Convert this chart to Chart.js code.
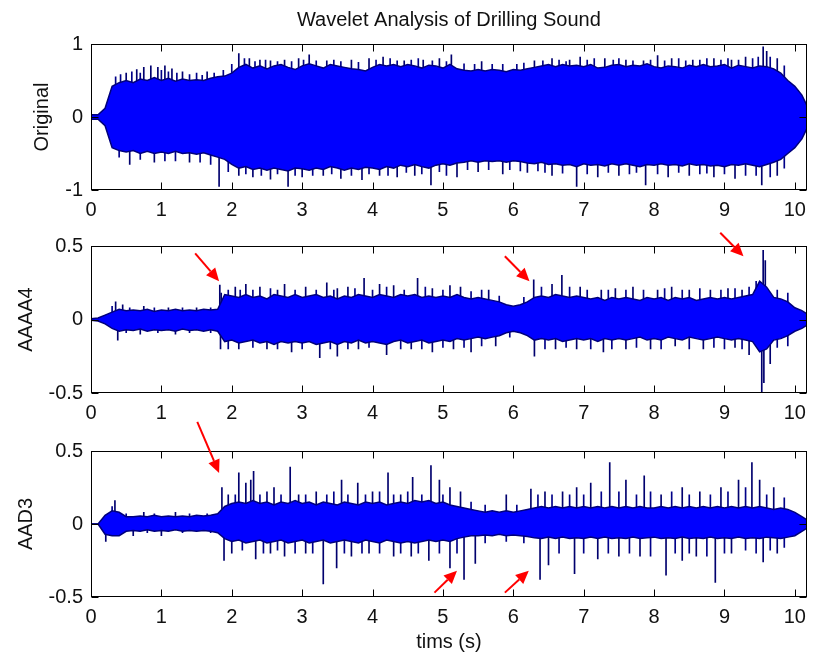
<!DOCTYPE html>
<html>
<head>
<meta charset="utf-8">
<title>Wavelet Analysis of Drilling Sound</title>
<script src="https://cdn.jsdelivr.net/npm/chart.js@4.4.0/dist/chart.umd.min.js"></script>
<style>
  html, body { margin: 0; padding: 0; background: #fff; }
  #fig { position: relative; width: 814px; height: 655px; overflow: hidden; }
  #fig canvas { position: absolute; left: 0; }
</style>
</head>
<body>
<div id="fig">
  <canvas id="c1" width="814" height="245" style="top:0"></canvas>
  <canvas id="c2" width="814" height="220" style="top:220px"></canvas>
  <canvas id="c3" width="814" height="243" style="top:412px"></canvas>
</div>
<script>
// envelope samples every 0.1 s, from 0 to 10.2 s
const STEP = 0.1;
const X_MAX = 10.17;
const X_TICKS = [0, 1, 2, 3, 4, 5, 6, 7, 8, 9, 10];

// Original signal: upper / lower envelope
const ORIG_UP = [
  0.03, 0.03, 0.12, 0.42, 0.47, 0.5, 0.47, 0.52, 0.5, 0.54,
  0.5, 0.53, 0.49, 0.52, 0.5, 0.51, 0.5, 0.53, 0.55, 0.56,
  0.6, 0.68, 0.72, 0.67, 0.7, 0.66, 0.7, 0.72, 0.68, 0.65,
  0.7, 0.73, 0.7, 0.67, 0.72, 0.7, 0.68, 0.66, 0.65, 0.63,
  0.68, 0.72, 0.7, 0.72, 0.69, 0.72, 0.7, 0.67, 0.71, 0.7,
  0.67, 0.72, 0.66, 0.64, 0.63, 0.65, 0.63, 0.65, 0.64, 0.62,
  0.65, 0.64, 0.66, 0.68, 0.7, 0.72, 0.69, 0.72, 0.7, 0.71,
  0.69, 0.72, 0.67, 0.68, 0.71, 0.72, 0.69, 0.71, 0.7, 0.73,
  0.69, 0.67, 0.7, 0.69, 0.67, 0.71, 0.69, 0.72, 0.69, 0.7,
  0.72, 0.67, 0.71, 0.69, 0.67, 0.7, 0.69, 0.66, 0.6, 0.5,
  0.42, 0.3, 0.1
];
const ORIG_LO = [
  -0.03, -0.03, -0.12, -0.42, -0.46, -0.48, -0.46, -0.5, -0.47, -0.5,
  -0.48, -0.5, -0.47, -0.5, -0.49, -0.51, -0.49, -0.52, -0.55, -0.58,
  -0.65, -0.7, -0.68, -0.72, -0.7, -0.73, -0.7, -0.72, -0.74, -0.7,
  -0.71, -0.73, -0.7, -0.72, -0.68, -0.7, -0.73, -0.7, -0.72, -0.69,
  -0.7, -0.72, -0.68, -0.7, -0.66, -0.68, -0.65, -0.68, -0.7, -0.66,
  -0.64, -0.66, -0.63, -0.62, -0.6, -0.62, -0.6, -0.61, -0.6, -0.62,
  -0.6, -0.61, -0.63, -0.64, -0.62, -0.65, -0.64, -0.66, -0.65, -0.68,
  -0.64, -0.66, -0.65, -0.67, -0.64, -0.66, -0.64, -0.66, -0.68, -0.65,
  -0.66, -0.64, -0.66, -0.65, -0.67, -0.64, -0.66, -0.65, -0.67, -0.66,
  -0.68, -0.65, -0.66, -0.64, -0.66, -0.68, -0.65, -0.62, -0.58, -0.5,
  -0.42, -0.3, -0.1
];
// tall isolated peaks (time, value)
const ORIG_PEAK_T = [0.5, 0.65, 0.75, 0.85, 0.95, 1.05, 1.15, 1.3, 1.65, 2.1, 2.25, 2.4, 2.55, 2.75, 2.95, 3.1,
  3.35, 3.7, 3.95, 4.15, 4.45, 4.72, 4.95, 5.12, 5.55, 6.3, 6.55, 6.8, 6.95, 7.3, 7.6, 7.85, 8.05, 8.25,
  8.55, 8.85, 9.1, 9.3, 9.55, 9.6, 9.75,
  0.55, 0.9, 1.4, 1.82, 2.1, 2.3, 2.55, 2.8, 3.0, 3.3, 3.55, 3.85, 4.1, 4.35, 4.6, 4.83, 5.2, 5.5, 5.85,
  6.2, 6.55, 6.9, 7.2, 7.5, 7.88, 8.2, 8.5, 8.85, 9.15, 9.53, 9.75];
const ORIG_PEAK_V = [0.6, 0.65, 0.68, 0.7, 0.68, 0.7, 0.66, 0.62, 0.62, 0.87, 0.8, 0.78, 0.77, 0.78, 0.8, 0.85,
  0.77, 0.78, 0.8, 0.82, 0.77, 0.78, 0.8, 0.85, 0.76, 0.77, 0.8, 0.78, 0.82, 0.8, 0.78, 0.77, 0.84, 0.8,
  0.78, 0.8, 0.78, 0.82, 0.96, 0.9, 0.8,
  -0.65, -0.62, -0.62, -0.95, -0.8, -0.82, -0.85, -0.95, -0.82, -0.8, -0.84, -0.86, -0.8, -0.82, -0.8, -0.93, -0.82, -0.75, -0.78,
  -0.76, -0.8, -0.95, -0.82, -0.8, -0.93, -0.82, -0.8, -0.82, -0.84, -0.93, -0.8];
// short hairs along the edges
const ORIG_HAIR_T = [0.35, 0.42, 0.58, 0.7, 1.0, 1.1, 1.22, 1.4, 1.5, 1.58, 1.75, 1.88, 2.0, 2.18, 2.33, 2.48, 2.65,
  2.85, 3.02, 3.2, 3.45, 3.55, 3.8, 4.05, 4.25, 4.35, 4.55, 4.65, 4.85, 5.05, 5.3, 5.45, 5.7, 5.85, 6.05,
  6.15, 6.42, 6.65, 6.75, 7.05, 7.15, 7.42, 7.5, 7.7, 7.95, 8.15, 8.35, 8.45, 8.65, 8.75, 8.95, 9.05, 9.2,
  9.4, 9.48, 9.65, 9.85,
  0.4, 0.7, 1.05, 1.2, 1.55, 1.7, 1.95, 2.2, 2.42, 2.65, 2.9, 3.15, 3.42, 3.7, 3.95, 4.22, 4.48, 4.7, 4.95,
  5.05, 5.35, 5.65, 5.95, 6.1, 6.35, 6.45, 6.7, 7.05, 7.35, 7.65, 7.75, 8.05, 8.35, 8.65, 8.75, 9.0, 9.3,
  9.45, 9.65, 9.85];
const ORIG_HAIR_V = [0.55, 0.58, 0.62, 0.6, 0.64, 0.62, 0.6, 0.58, 0.6, 0.57, 0.6, 0.64, 0.72, 0.8, 0.76, 0.78, 0.76,
  0.76, 0.78, 0.77, 0.78, 0.76, 0.75, 0.78, 0.8, 0.77, 0.78, 0.8, 0.77, 0.76, 0.73, 0.72, 0.72, 0.72, 0.72,
  0.74, 0.77, 0.78, 0.76, 0.78, 0.8, 0.78, 0.8, 0.77, 0.78, 0.77, 0.8, 0.77, 0.78, 0.8, 0.78, 0.8, 0.78,
  0.8, 0.82, 0.82, 0.7,
  -0.55, -0.58, -0.6, -0.6, -0.62, -0.65, -0.75, -0.78, -0.8, -0.78, -0.8, -0.8, -0.78, -0.8, -0.78, -0.8, -0.76, -0.78, -0.75,
  -0.8, -0.72, -0.72, -0.72, -0.74, -0.74, -0.76, -0.77, -0.78, -0.76, -0.78, -0.76, -0.78, -0.76, -0.78, -0.77, -0.78, -0.8,
  -0.8, -0.82, -0.7];

// AAAA4 approximation
const A4_UP = [
  0.005, 0.01, 0.03, 0.05, 0.07, 0.06, 0.065, 0.06, 0.07, 0.055,
  0.065, 0.06, 0.07, 0.06, 0.065, 0.06, 0.07, 0.065, 0.07, 0.17,
  0.16, 0.15, 0.17, 0.15, 0.16, 0.14, 0.17, 0.16, 0.15, 0.17,
  0.15, 0.16, 0.17, 0.15, 0.16, 0.14, 0.16, 0.15, 0.17, 0.16,
  0.15, 0.17, 0.16, 0.15, 0.17, 0.16, 0.17, 0.15, 0.16, 0.15,
  0.16, 0.15, 0.17, 0.15, 0.14, 0.15, 0.14, 0.13, 0.12, 0.1,
  0.09, 0.1, 0.12, 0.15, 0.16, 0.15, 0.17, 0.16, 0.15, 0.16,
  0.15, 0.14, 0.15, 0.13, 0.15, 0.14, 0.15, 0.14, 0.13, 0.15,
  0.14, 0.15, 0.13, 0.15, 0.14, 0.15, 0.13, 0.14, 0.15, 0.14,
  0.15, 0.14, 0.15, 0.16, 0.17, 0.26, 0.22, 0.15, 0.14, 0.12,
  0.08, 0.06, 0.03
];
const A4_LO = [
  -0.005, -0.01, -0.03, -0.06, -0.08, -0.07, -0.075, -0.065, -0.08, -0.07,
  -0.075, -0.07, -0.08, -0.065, -0.075, -0.07, -0.08, -0.07, -0.08, -0.15,
  -0.14, -0.16, -0.15, -0.14, -0.16, -0.15, -0.17, -0.15, -0.16, -0.15,
  -0.16, -0.15, -0.17, -0.16, -0.15, -0.17, -0.15, -0.16, -0.14, -0.16,
  -0.15, -0.16, -0.17, -0.15, -0.14, -0.16, -0.15, -0.14, -0.16, -0.15,
  -0.14, -0.15, -0.13, -0.14, -0.13, -0.12, -0.13, -0.12, -0.11, -0.09,
  -0.08, -0.09, -0.11, -0.14, -0.13, -0.14, -0.13, -0.15, -0.14, -0.13,
  -0.14, -0.13, -0.15, -0.13, -0.14, -0.13, -0.14, -0.13, -0.12, -0.14,
  -0.13, -0.14, -0.12, -0.13, -0.14, -0.12, -0.13, -0.14, -0.13, -0.12,
  -0.13, -0.14, -0.13, -0.14, -0.15, -0.22, -0.2, -0.14, -0.13, -0.11,
  -0.08, -0.06, -0.03
];
const A4_PEAK_T = [0.35, 0.45, 0.75, 1.1, 1.5, 1.83, 1.85, 2.05, 2.2, 2.4, 2.65, 2.75, 3.05, 3.35, 3.5, 3.65, 3.88,
  4.1, 4.3, 4.64, 4.85, 5.1, 5.25, 5.65, 6.29, 6.55, 6.69, 6.95, 7.25, 7.45, 7.7, 8.05, 8.25, 8.5, 8.8,
  9.05, 9.25, 9.55, 9.58,
  0.38, 0.7, 1.2, 1.84, 2.1, 2.5, 2.85, 3.25, 3.5, 3.8, 4.2, 4.55, 4.85, 5.15, 5.4, 5.75, 6.3, 6.6, 6.9,
  7.28, 7.6, 7.95, 8.3, 8.7, 9.15, 9.35, 9.53, 9.56, 9.65];
const A4_PEAK_V = [0.12, 0.1, 0.09, 0.08, 0.08, 0.235, 0.18, 0.22, 0.24, 0.22, 0.2, 0.24, 0.22, 0.25, 0.21, 0.22, 0.28,
  0.24, 0.23, 0.28, 0.21, 0.23, 0.22, 0.2, 0.27, 0.24, 0.3, 0.22, 0.2, 0.21, 0.22, 0.2, 0.22, 0.2, 0.2,
  0.21, 0.2, 0.47, 0.4,
  -0.14, -0.1, -0.1, -0.2, -0.2, -0.2, -0.22, -0.26, -0.25, -0.2, -0.24, -0.2, -0.22, -0.2, -0.22, -0.18, -0.25, -0.2, -0.2,
  -0.22, -0.2, -0.2, -0.18, -0.2, -0.19, -0.24, -0.5, -0.43, -0.3];
const A4_HAIR_T = [0.3, 0.55, 0.9, 1.3, 1.7, 1.95, 2.12, 2.3, 2.55, 2.9, 3.2, 3.45, 3.75, 4.0, 4.2, 4.45, 4.75, 5.0,
  5.4, 5.55, 5.8, 6.15, 6.4, 6.8, 7.05, 7.35, 7.6, 7.85, 8.15, 8.4, 8.65, 8.95, 9.15, 9.35, 9.45, 9.75, 9.9,
  0.5, 0.95, 1.4, 1.7, 1.95, 2.3, 2.65, 3.0, 3.4, 3.65, 3.95, 4.4, 4.7, 5.0, 5.3, 5.55, 5.95, 6.45, 6.75,
  7.1, 7.4, 7.75, 8.1, 8.5, 8.85, 9.0, 9.25, 9.75, 9.9];
const A4_HAIR_V = [0.09, 0.08, 0.08, 0.08, 0.08, 0.2, 0.2, 0.2, 0.21, 0.2, 0.2, 0.2, 0.21, 0.2, 0.22, 0.2, 0.22, 0.2,
  0.19, 0.2, 0.16, 0.15, 0.22, 0.22, 0.2, 0.2, 0.2, 0.2, 0.21, 0.2, 0.21, 0.2, 0.21, 0.22, 0.26, 0.2, 0.18,
  -0.09, -0.09, -0.09, -0.09, -0.2, -0.19, -0.2, -0.2, -0.2, -0.2, -0.19, -0.2, -0.2, -0.19, -0.19, -0.18, -0.12, -0.2, -0.19,
  -0.2, -0.2, -0.19, -0.2, -0.2, -0.19, -0.2, -0.2, -0.19, -0.18];

// AAD3 detail
const D3_UP = [
  0.0, 0.0, 0.06, 0.09, 0.08, 0.05, 0.05, 0.055, 0.05, 0.06,
  0.05, 0.055, 0.05, 0.055, 0.05, 0.06, 0.055, 0.06, 0.07, 0.12,
  0.14, 0.15, 0.14, 0.16, 0.14, 0.15, 0.13, 0.15, 0.14, 0.16,
  0.14, 0.15, 0.13, 0.15, 0.14, 0.13, 0.15, 0.14, 0.13, 0.15,
  0.14, 0.15, 0.13, 0.14, 0.15, 0.14, 0.16, 0.15, 0.16, 0.14,
  0.15, 0.13, 0.12, 0.11, 0.1, 0.09, 0.08, 0.09, 0.08, 0.09,
  0.08, 0.09, 0.1, 0.11, 0.12, 0.11, 0.12, 0.11, 0.12, 0.11,
  0.12, 0.11, 0.12, 0.11, 0.12, 0.11, 0.12, 0.11, 0.12, 0.11,
  0.11, 0.12, 0.11, 0.12, 0.11, 0.12, 0.11, 0.12, 0.11, 0.12,
  0.11, 0.12, 0.11, 0.12, 0.11, 0.12, 0.11, 0.1, 0.11, 0.1,
  0.08, 0.05, 0.02
];
const D3_LO = [
  0.0, 0.0, -0.07, -0.08, -0.08, -0.05, -0.045, -0.05, -0.04, -0.05,
  -0.045, -0.05, -0.04, -0.05, -0.045, -0.05, -0.045, -0.05, -0.06, -0.1,
  -0.12, -0.11, -0.13, -0.12, -0.11, -0.13, -0.12, -0.11, -0.13, -0.12,
  -0.11, -0.13, -0.12, -0.11, -0.13, -0.12, -0.11, -0.12, -0.13, -0.11,
  -0.12, -0.13, -0.11, -0.12, -0.13, -0.12, -0.13, -0.12, -0.11, -0.12,
  -0.11, -0.12, -0.1, -0.09, -0.08, -0.08, -0.075, -0.08, -0.07, -0.08,
  -0.075, -0.08, -0.085, -0.095, -0.1, -0.09, -0.1, -0.09, -0.1, -0.095,
  -0.1, -0.09, -0.1, -0.09, -0.1, -0.095, -0.1, -0.09, -0.1, -0.095,
  -0.09, -0.1, -0.095, -0.1, -0.09, -0.1, -0.095, -0.1, -0.09, -0.1,
  -0.095, -0.1, -0.09, -0.1, -0.095, -0.1, -0.09, -0.095, -0.1, -0.09,
  -0.08, -0.05, -0.02
];
const D3_PEAK_T = [0.34, 0.75, 1.2, 1.86, 1.95, 2.1, 2.2, 2.27, 2.31, 2.5, 2.6, 2.83, 2.95, 3.2, 3.56, 3.79, 4.0,
  4.22, 4.4, 4.57, 4.83, 4.95, 5.1, 5.25, 5.9, 6.25, 6.45, 6.7, 6.9, 7.1, 7.37, 7.6, 7.86, 8.1, 8.4, 8.65,
  8.95, 9.2, 9.39, 9.5, 9.7,
  0.21, 0.6, 1.0, 1.89, 2.0, 2.34, 2.55, 2.75, 3.05, 3.3, 3.49, 3.7, 3.95, 4.3, 4.55, 4.8, 5.1, 5.3, 5.46,
  6.38, 6.5, 6.87, 7.2, 7.5, 7.8, 8.17, 8.4, 8.6, 8.87, 9.1, 9.55, 9.75];
const D3_PEAK_V = [0.16, 0.08, 0.08, 0.25, 0.2, 0.35, 0.28, 0.3, 0.36, 0.22, 0.25, 0.39, 0.2, 0.22, 0.3, 0.28, 0.22,
  0.35, 0.2, 0.32, 0.4, 0.3, 0.25, 0.22, 0.2, 0.24, 0.22, 0.22, 0.25, 0.28, 0.42, 0.3, 0.33, 0.2, 0.25, 0.22,
  0.25, 0.3, 0.42, 0.3, 0.25,
  -0.12, -0.08, -0.08, -0.25, -0.2, -0.24, -0.2, -0.22, -0.2, -0.41, -0.3, -0.22, -0.2, -0.22, -0.22, -0.25, -0.3, -0.38, -0.27,
  -0.38, -0.28, -0.34, -0.24, -0.22, -0.22, -0.35, -0.25, -0.22, -0.4, -0.2, -0.26, -0.2];
const D3_HAIR_T = [0.3, 0.5, 0.9, 1.4, 1.65, 2.05, 2.4, 2.7, 3.05, 3.35, 3.45, 3.65, 3.9, 4.1, 4.3, 4.5, 4.7, 5.0,
  5.4, 5.6, 6.05, 6.35, 6.55, 6.8, 7.0, 7.25, 7.5, 7.75, 7.95, 8.25, 8.5, 8.8, 9.05, 9.3, 9.6, 9.85,
  0.4, 0.8, 1.3, 1.7, 2.15, 2.45, 2.65, 2.9, 3.15, 3.6, 3.85, 4.1, 4.4, 4.65, 4.95, 5.2, 5.6, 5.9, 6.15,
  6.65, 7.0, 7.35, 7.65, 7.95, 8.3, 8.5, 8.75, 9.0, 9.3, 9.45, 9.65, 9.85];
const D3_HAIR_V = [0.12, 0.07, 0.07, 0.07, 0.07, 0.2, 0.2, 0.2, 0.2, 0.2, 0.22, 0.2, 0.2, 0.22, 0.2, 0.22, 0.2, 0.2,
  0.15, 0.13, 0.13, 0.2, 0.2, 0.2, 0.2, 0.22, 0.22, 0.2, 0.22, 0.22, 0.2, 0.2, 0.22, 0.25, 0.2, 0.18,
  -0.07, -0.06, -0.06, -0.06, -0.18, -0.2, -0.18, -0.2, -0.2, -0.2, -0.2, -0.2, -0.2, -0.2, -0.2, -0.2, -0.13, -0.12, -0.13,
  -0.2, -0.2, -0.2, -0.2, -0.22, -0.2, -0.2, -0.22, -0.2, -0.18, -0.2, -0.18, -0.16];

const FONT = { family: "'Liberation Sans', Arial, Helvetica, sans-serif", size: 20 };
const TEXT = '#111';
const EDGE = '#00007c';

function series(vals) {
  return vals.map((v, i) => ({ x: +(i * STEP).toFixed(2), y: v }));
}
function peaks(ts, vs) {
  return ts.map((t, i) => ({ x: t, y: vs[i] }));
}

// box, inward ticks on all four sides, title and red arrows
const axesBox = {
  id: 'axesBox',
  afterDatasetsDraw(chart, args, opts) {
    const { ctx, chartArea: a, scales: { x, y } } = chart;
    const L = Math.round(a.left) + 0.5, R = Math.round(a.right) - 0.5;
    const T = Math.round(a.top) + 0.5, B = Math.round(a.bottom) - 0.5;
    ctx.save();
    ctx.strokeStyle = '#000';
    ctx.lineWidth = 1;
    ctx.beginPath();
    X_TICKS.forEach(v => {
      const px = Math.round(x.getPixelForValue(v)) + 0.5;
      ctx.moveTo(px, T); ctx.lineTo(px, T + 7);
      ctx.moveTo(px, B); ctx.lineTo(px, B - 7);
    });
    opts.yTicks.forEach(v => {
      const py = Math.round(y.getPixelForValue(v)) + 0.5;
      ctx.moveTo(L, py); ctx.lineTo(L + 7, py);
      ctx.moveTo(R, py); ctx.lineTo(R - 7, py);
    });
    ctx.stroke();
    ctx.strokeRect(L, T, R - L, B - T);

    if (opts.title) {
      ctx.fillStyle = TEXT;
      ctx.font = FONT.size + 'px ' + FONT.family;
      ctx.textAlign = 'center';
      ctx.textBaseline = 'middle';
      ctx.fillText(opts.title, (a.left + a.right) / 2, 20);
    }

    ctx.strokeStyle = '#ff0000';
    ctx.fillStyle = '#ff0000';
    ctx.lineWidth = 2;
    (opts.arrows || []).forEach(([x0, y0, x1, y1]) => {
      const ax = x.getPixelForValue(x0), ay = y.getPixelForValue(y0);
      const bx = x.getPixelForValue(x1), by = y.getPixelForValue(y1);
      const ang = Math.atan2(by - ay, bx - ax);
      const head = 13, half = 6;
      const hx = bx - head * Math.cos(ang), hy = by - head * Math.sin(ang);
      ctx.beginPath();
      ctx.moveTo(ax, ay); ctx.lineTo(hx, hy);
      ctx.stroke();
      ctx.beginPath();
      ctx.moveTo(bx, by);
      ctx.lineTo(hx + half * Math.sin(ang), hy - half * Math.cos(ang));
      ctx.lineTo(hx - half * Math.sin(ang), hy + half * Math.cos(ang));
      ctx.closePath();
      ctx.fill();
    });
    ctx.restore();
  }
};

function panel(id, p) {
  const yMap = {};
  p.yTicks.forEach((v, i) => { yMap[v] = p.yLabels[i]; });
  return new Chart(document.getElementById(id), {
    data: {
      datasets: [
        { type: 'line', data: series(p.up), borderColor: EDGE, borderWidth: 1.5,
          pointRadius: 0, tension: 0, fill: false, order: 1 },
        { type: 'line', data: series(p.lo), borderColor: EDGE, borderWidth: 1.5,
          backgroundColor: '#0000ff', pointRadius: 0, tension: 0, fill: '-1', order: 1 },
        { type: 'bar', data: peaks(p.peakT, p.peakV), backgroundColor: '#00006e',
          barThickness: 1, grouped: false, order: 2 },
        { type: 'bar', data: peaks(p.hairT, p.hairV), backgroundColor: '#000088',
          barThickness: 1, grouped: false, order: 2 }
      ]
    },
    options: {
      responsive: false,
      animation: false,
      devicePixelRatio: 1,
      layout: { padding: { top: p.padTop, right: 2, left: 0, bottom: 0 } },
      plugins: {
        legend: { display: false },
        tooltip: { enabled: false },
        axesBox: { yTicks: p.yTicks, title: p.title, arrows: p.arrows }
      },
      scales: {
        x: {
          type: 'linear', min: 0, max: X_MAX, offset: false,
          grid: { display: false, drawTicks: false }, border: { display: false },
          ticks: { color: TEXT, font: FONT, padding: 8, maxRotation: 0, autoSkip: false,
                   callback: v => String(v) },
          afterBuildTicks: s => { s.ticks = X_TICKS.map(v => ({ value: v })); },
          afterFit: s => { s.height = p.xHeight; },
          title: p.xTitle
            ? { display: true, text: p.xTitle, color: TEXT, font: FONT, padding: { top: 0, bottom: 1 } }
            : { display: false }
        },
        y: {
          type: 'linear', min: p.yTicks[0], max: p.yTicks[p.yTicks.length - 1],
          grid: { display: false, drawTicks: false }, border: { display: false },
          ticks: { color: TEXT, font: FONT, padding: 8, callback: v => yMap[v] },
          afterBuildTicks: s => { s.ticks = p.yTicks.map(v => ({ value: v })); },
          afterFit: s => { s.width = 91; },
          title: { display: true, text: p.yTitle, color: TEXT, font: FONT,
                   padding: { top: p.yTitlePad, bottom: 0 } }
        }
      }
    },
    plugins: [axesBox]
  });
}

panel('c1', {
  up: ORIG_UP, lo: ORIG_LO, peakT: ORIG_PEAK_T, peakV: ORIG_PEAK_V, hairT: ORIG_HAIR_T, hairV: ORIG_HAIR_V,
  yTicks: [-1, 0, 1], yLabels: ['-1', '0', '1'], yTitle: 'Original', yTitlePad: 30,
  padTop: 44, xHeight: 55, title: 'Wavelet Analysis of Drilling Sound'
});

panel('c2', {
  up: A4_UP, lo: A4_LO, peakT: A4_PEAK_T, peakV: A4_PEAK_V, hairT: A4_HAIR_T, hairV: A4_HAIR_V,
  yTicks: [-0.5, 0, 0.5], yLabels: ['-0.5', '0', '0.5'], yTitle: 'AAAA4', yTitlePad: 14,
  padTop: 26, xHeight: 47,
  arrows: [[1.48, 0.45, 1.82, 0.26], [5.88, 0.43, 6.23, 0.26], [8.94, 0.59, 9.27, 0.43]]
});

panel('c3', {
  up: D3_UP, lo: D3_LO, peakT: D3_PEAK_T, peakV: D3_PEAK_V, hairT: D3_HAIR_T, hairV: D3_HAIR_V,
  yTicks: [-0.5, 0, 0.5], yLabels: ['-0.5', '0', '0.5'], yTitle: 'AAD3', yTitlePad: 14,
  padTop: 39, xHeight: 58, xTitle: 'tims (s)',
  arrows: [[1.51, 0.70, 1.82, 0.35], [4.88, -0.47, 5.2, -0.32], [5.88, -0.47, 6.22, -0.32]]
});
</script>
</body>
</html>
